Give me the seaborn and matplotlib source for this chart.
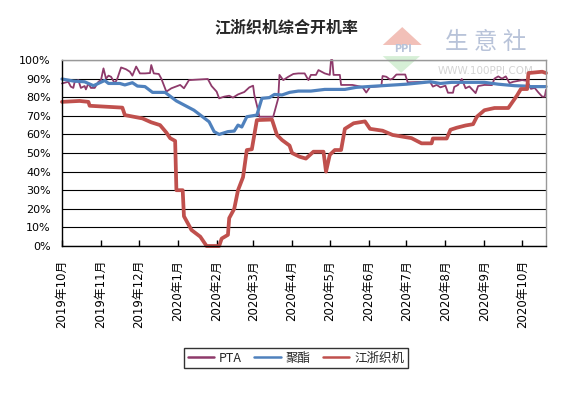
import numpy as np
import pandas as pd
import matplotlib
matplotlib.use('Agg')
import matplotlib.pyplot as plt
from matplotlib.patches import Polygon
import seaborn as sns

# --- DATA ---
pta_dates = [
    '2019-10-01', '2019-10-06', '2019-10-08', '2019-10-10', '2019-10-11', '2019-10-14', '2019-10-16',
    '2019-10-19', '2019-10-20', '2019-10-22', '2019-10-24', '2019-10-27', '2019-10-30', '2019-11-01',
    '2019-11-03', '2019-11-05', '2019-11-07', '2019-11-09', '2019-11-12', '2019-11-14', '2019-11-17',
    '2019-11-21', '2019-11-24', '2019-11-26', '2019-11-29', '2019-12-02', '2019-12-06', '2019-12-10',
    '2019-12-11', '2019-12-13', '2019-12-17', '2019-12-19', '2019-12-23', '2019-12-27', '2020-01-03',
    '2020-01-06', '2020-01-10', '2020-01-25', '2020-01-28', '2020-02-01', '2020-02-03', '2020-02-07',
    '2020-02-11', '2020-02-14', '2020-02-18', '2020-02-23', '2020-02-27', '2020-03-01', '2020-03-02',
    '2020-03-05', '2020-03-06', '2020-03-17', '2020-03-21', '2020-03-22', '2020-03-25', '2020-03-29',
    '2020-04-02', '2020-04-06', '2020-04-11', '2020-04-14', '2020-04-16', '2020-04-20', '2020-04-22',
    '2020-04-27', '2020-05-01', '2020-05-02', '2020-05-03', '2020-05-04', '2020-05-09', '2020-05-10',
    '2020-05-19', '2020-05-27', '2020-05-30', '2020-06-02', '2020-06-11', '2020-06-12', '2020-06-15',
    '2020-06-18', '2020-06-20', '2020-06-23', '2020-06-30', '2020-07-02', '2020-07-16', '2020-07-20',
    '2020-07-22', '2020-07-25', '2020-07-28', '2020-08-01', '2020-08-03', '2020-08-07', '2020-08-08',
    '2020-08-11', '2020-08-14', '2020-08-17', '2020-08-20', '2020-08-25', '2020-08-27', '2020-09-01',
    '2020-09-07', '2020-09-09', '2020-09-12', '2020-09-15', '2020-09-18', '2020-09-21', '2020-09-24',
    '2020-10-01', '2020-10-05', '2020-10-08', '2020-10-11', '2020-10-14', '2020-10-17', '2020-10-19',
    '2020-10-20',
]
pta_values = [
    87.4, 88.3, 85.7, 85.0, 88.0, 89.2, 85.0,
    86.0, 84.2, 87.4, 85.0, 85.0, 88.3, 89.2,
    95.5, 90.0, 91.6, 91.0, 87.4, 90.0, 96.0,
    95.0, 93.7, 91.6, 96.5, 92.8, 92.8, 93.0,
    97.3, 92.8, 92.5, 90.0, 83.0, 84.8, 86.6,
    84.8, 89.2, 89.8, 86.0, 83.0, 79.4, 80.3,
    80.8, 79.8, 81.5, 82.8, 85.3, 86.2, 81.2,
    73.0, 69.5, 69.5, 79.4, 92.0, 89.2, 91.0,
    92.5, 92.8, 92.8, 89.2, 92.0, 92.0, 94.6,
    92.8, 92.0, 100.0, 100.0, 92.0, 92.0, 86.6,
    86.6, 85.5, 82.5, 85.5, 86.0, 91.4, 91.0,
    89.5, 90.0, 92.2, 92.2, 88.0, 88.3, 88.0,
    85.7, 86.6, 85.3, 86.2, 82.4, 82.4, 85.5,
    86.6, 89.8, 84.8, 85.8, 82.2, 86.0, 86.6,
    86.5, 90.0, 91.2, 90.0, 91.2, 87.6, 88.3,
    89.2, 88.8, 84.5, 85.0, 82.5, 80.3, 80.3,
    84.0,
]

polyester_dates = [
    '2019-10-01', '2019-10-10', '2019-10-19', '2019-10-26', '2019-11-04', '2019-11-07', '2019-11-16',
    '2019-11-20', '2019-11-26', '2019-11-30', '2019-12-06', '2019-12-12', '2019-12-22', '2019-12-31',
    '2020-01-14', '2020-01-26', '2020-01-30', '2020-02-03', '2020-02-10', '2020-02-15', '2020-02-18',
    '2020-02-21', '2020-02-25', '2020-03-04', '2020-03-08', '2020-03-14', '2020-03-18', '2020-03-24',
    '2020-03-30', '2020-04-06', '2020-04-16', '2020-04-27', '2020-05-13', '2020-05-22', '2020-06-07',
    '2020-07-01', '2020-07-20', '2020-07-28', '2020-08-06', '2020-09-01', '2020-09-12', '2020-09-25',
    '2020-10-03', '2020-10-08', '2020-10-20',
]
polyester_values = [
    89.8, 88.7, 88.3, 86.2, 89.0, 87.4, 87.4,
    86.6, 87.8, 86.0, 85.7, 82.6, 82.6, 78.0,
    73.0, 66.8, 61.5, 60.0, 61.5, 61.8, 65.0,
    64.0, 69.5, 70.4, 79.4, 79.8, 81.5, 81.2,
    82.6, 83.3, 83.3, 84.2, 84.2, 85.3, 86.0,
    87.0, 88.3, 87.4, 88.0, 88.0, 87.0, 86.2,
    86.0, 85.7, 85.7,
]

loom_dates = [
    '2019-10-01', '2019-10-15', '2019-10-22', '2019-10-23', '2019-11-18', '2019-11-20', '2019-12-04',
    '2019-12-11', '2019-12-18', '2019-12-23', '2019-12-26', '2019-12-30', '2019-12-31', '2020-01-05',
    '2020-01-06', '2020-01-12', '2020-01-19', '2020-01-24', '2020-02-03', '2020-02-05', '2020-02-10',
    '2020-02-11', '2020-02-15', '2020-02-18', '2020-02-22', '2020-02-25', '2020-02-29', '2020-03-04',
    '2020-03-16', '2020-03-20', '2020-03-24', '2020-03-30', '2020-04-01', '2020-04-07', '2020-04-12',
    '2020-04-18', '2020-04-26', '2020-04-28', '2020-05-01', '2020-05-05', '2020-05-10', '2020-05-13',
    '2020-05-20', '2020-05-29', '2020-06-02', '2020-06-12', '2020-06-20', '2020-07-05', '2020-07-13',
    '2020-07-21', '2020-07-22', '2020-08-02', '2020-08-05', '2020-08-10', '2020-08-17', '2020-08-23',
    '2020-08-26', '2020-09-01', '2020-09-09', '2020-09-20', '2020-09-27', '2020-09-30', '2020-10-05',
    '2020-10-06', '2020-10-17', '2020-10-20',
]
loom_values = [
    77.5, 78.0, 77.5, 75.4, 74.4, 70.4, 68.6,
    66.5, 65.0, 61.0, 58.0, 56.5, 30.0, 30.0,
    16.0, 8.6, 5.0, 0.0, 0.0, 4.0, 6.0,
    15.0, 20.0, 30.0, 37.0, 51.6, 52.0, 67.7,
    68.0, 59.7, 57.0, 54.0, 50.0, 48.0, 47.0,
    50.7, 50.7, 40.0, 49.0, 51.6, 51.6, 63.0,
    66.0, 67.0, 63.0, 62.0, 59.7, 58.0, 55.2,
    55.2, 57.8, 57.8, 62.5, 63.6, 64.8, 65.5,
    69.5, 73.0, 74.2, 74.2, 81.0, 84.4, 84.4,
    93.0, 93.7, 93.0,
]

series_names = ['PTA', '聚酯', '江浙织机']
series_colors = ['#8E3A6B', '#4F81BD', '#C0504D']
series_widths = [1.3, 2.3, 2.7]

month_starts = pd.date_range('2019-10-01', '2020-10-01', freq='MS')
month_labels = ['2019年10月', '2019年11月', '2019年12月', '2020年1月', '2020年2月', '2020年3月',
                '2020年4月', '2020年5月', '2020年6月', '2020年7月', '2020年8月', '2020年9月',
                '2020年10月']
y_ticks = list(range(0, 101, 10))

# --- STYLE ---
sns.set_theme(style='white')
plt.rcParams['font.family'] = ['DejaVu Sans', 'Noto Sans CJK SC']
cjk = ['Noto Sans CJK SC', 'DejaVu Sans']

fig = plt.figure(figsize=(5.73, 3.98), dpi=100)
fig.patch.set_facecolor('white')
ax = fig.add_axes([0.1082, 0.3819, 0.8447, 0.4673])
ax.patch.set_alpha(0)

# watermark behind the plot
fig.patches.append(Polygon([(0.668, 0.887), (0.702, 0.932), (0.736, 0.887)], closed=True,
                           transform=fig.transFigure, facecolor='#f2c0b8', edgecolor='none', zorder=-2))
fig.patches.append(Polygon([(0.668, 0.859), (0.733, 0.859), (0.700, 0.817)], closed=True,
                           transform=fig.transFigure, facecolor='#d6efd6', edgecolor='none', zorder=-2))
fig.text(0.704, 0.876, 'PPI', fontsize=7, color='#b8c3d9', fontweight='bold',
         ha='center', va='center', zorder=-1)
fig.text(0.848, 0.892, '生 意 社', fontsize=17, color='#b8c3d9', ha='center', va='center',
         family=cjk, zorder=-1)
fig.text(0.848, 0.822, 'WWW.100PPI.COM', fontsize=7.5, color='#d4d4d4', ha='center', va='center',
         zorder=-1)

all_series = [
    (pta_dates, pta_values),
    (polyester_dates, polyester_values),
    (loom_dates, loom_values),
]
handles = []
for (dates, vals), name, col, lw in zip(all_series, series_names, series_colors, series_widths):
    df = pd.DataFrame({'date': pd.to_datetime(dates), 'value': vals})
    sns.lineplot(data=df, x='date', y='value', ax=ax, color=col, linewidth=lw, legend=False)
    line = ax.lines[-1]
    line.set_label(name)
    line.set_clip_on(False)
    handles.append(line)

ax.set_xlim(pd.Timestamp('2019-10-01'), pd.Timestamp('2020-10-20'))
ax.set_ylim(0, 100)
ax.set_xlabel('')
ax.set_ylabel('')

ax.set_xticks(month_starts)
ax.set_xticklabels(month_labels, rotation=90, fontsize=8.5, color='black')
ax.tick_params(axis='x', bottom=True, direction='in', length=4, width=1, color='black', pad=10)
ax.set_yticks(y_ticks)
ax.set_yticklabels([f'{v}%' for v in y_ticks])
ax.tick_params(axis='y', left=False, length=0, pad=8, labelsize=8, labelcolor='black')

ax.yaxis.grid(True, color='black', linewidth=0.8)
ax.xaxis.grid(False)
ax.set_axisbelow(True)

for side in ['left', 'bottom']:
    ax.spines[side].set_color('black')
    ax.spines[side].set_linewidth(1)
for side in ['top', 'right']:
    ax.spines[side].set_color('#999999')
    ax.spines[side].set_linewidth(1)

fig.text(0.499, 0.932, '江浙织机综合开机率', ha='center', va='center', fontsize=11.5,
         fontweight='bold', family=cjk)

leg = fig.legend(handles=handles, labels=series_names, loc='center', bbox_to_anchor=(0.5166, 0.1005),
                 ncol=3, frameon=True, fancybox=False, edgecolor='black',
                 handlelength=2.1, columnspacing=1.0, borderpad=0.3, handletextpad=0.4,
                 prop={'family': cjk, 'size': 9})
leg.get_frame().set_linewidth(1)
for h in leg.legend_handles:
    h.set_linewidth(1.8)

fig.savefig('out.png', dpi=100, facecolor='white')
